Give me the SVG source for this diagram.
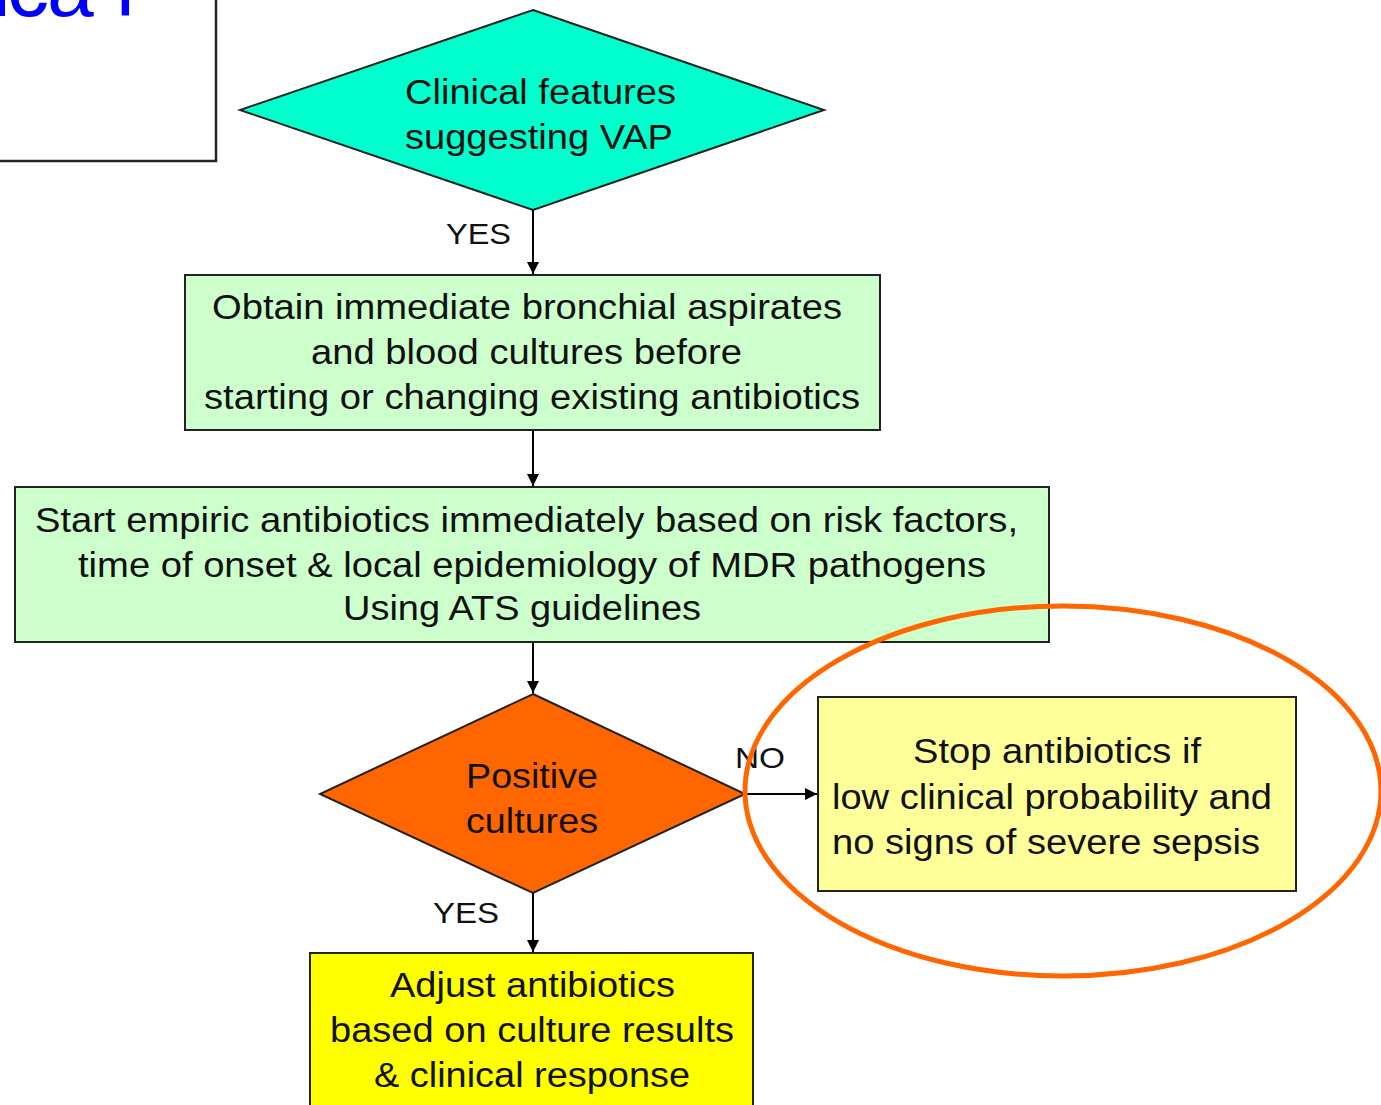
<svg xmlns="http://www.w3.org/2000/svg" width="1381" height="1105" viewBox="0 0 1381 1105">
<defs>
<marker id="arr" viewBox="0 0 10 10" refX="10" refY="5" markerWidth="12" markerHeight="12" markerUnits="userSpaceOnUse" orient="auto">
<path d="M0,0 L10,5 L0,10 z" fill="#000"/>
</marker>
</defs>
<style>
.t{font-family:"Liberation Sans",Arial,sans-serif;font-size:35px;fill:#111}
.l{font-family:"Liberation Sans",Arial,sans-serif;font-size:30px;fill:#111}
.box{stroke:#222;stroke-width:2}
.c{stroke:#000;stroke-width:2;fill:none;marker-end:url(#arr)}
</style>
<rect width="1381" height="1105" fill="#fff"/>
<g id="title-box">
<rect x="-10" y="-10" width="226" height="171" fill="#fff" stroke="#222" stroke-width="2.5"/>
<text x="-8 7 47 116" y="16" font-family="Liberation Sans,Arial,sans-serif" font-size="84" fill="#0000ff">ical</text>
</g>
<g id="n1">
<polygon class="box" points="533,10 824,110 533,210 240,110" fill="#00FFCC"/>
<text class="t" x="405" y="104" textLength="271" lengthAdjust="spacingAndGlyphs">Clinical features</text>
<text class="t" x="405" y="149" textLength="268" lengthAdjust="spacingAndGlyphs">suggesting VAP</text>
</g>
<g id="n2">
<rect class="box" x="185" y="275" width="695" height="155" fill="#CCFFCC"/>
<text class="t" x="212" y="319" textLength="630" lengthAdjust="spacingAndGlyphs">Obtain immediate bronchial aspirates</text>
<text class="t" x="311" y="364" textLength="431" lengthAdjust="spacingAndGlyphs">and blood cultures before</text>
<text class="t" x="204" y="409" textLength="656" lengthAdjust="spacingAndGlyphs">starting or changing existing antibiotics</text>
</g>
<g id="n3">
<rect class="box" x="15" y="487" width="1034" height="155" fill="#CCFFCC"/>
<text class="t" x="35" y="532" textLength="983" lengthAdjust="spacingAndGlyphs">Start empiric antibiotics immediately based on risk factors,</text>
<text class="t" x="78" y="577" textLength="908" lengthAdjust="spacingAndGlyphs">time of onset &amp; local epidemiology of MDR pathogens</text>
<text class="t" x="343" y="620" textLength="358" lengthAdjust="spacingAndGlyphs">Using ATS guidelines</text>
</g>
<g id="n4">
<polygon class="box" points="533,694 745,794 533,893 320,794" fill="#FF6600"/>
<text class="t" x="466" y="788" textLength="132" lengthAdjust="spacingAndGlyphs">Positive</text>
<text class="t" x="466" y="833" textLength="132" lengthAdjust="spacingAndGlyphs">cultures</text>
</g>
<g id="n5">
<rect class="box" x="818" y="697" width="478" height="194" fill="#FFFF99"/>
<text class="t" x="913" y="763" textLength="288" lengthAdjust="spacingAndGlyphs">Stop antibiotics if</text>
<text class="t" x="832" y="809" textLength="440" lengthAdjust="spacingAndGlyphs">low clinical probability and</text>
<text class="t" x="832" y="854" textLength="428" lengthAdjust="spacingAndGlyphs">no signs of severe sepsis</text>
</g>
<g id="n6">
<rect class="box" x="310" y="953" width="443" height="170" fill="#FFFF00"/>
<text class="t" x="390" y="997" textLength="285" lengthAdjust="spacingAndGlyphs">Adjust antibiotics</text>
<text class="t" x="330" y="1042" textLength="404" lengthAdjust="spacingAndGlyphs">based on culture results</text>
<text class="t" x="374" y="1087" textLength="316" lengthAdjust="spacingAndGlyphs">&amp; clinical response</text>
</g>
<g id="connectors">
<line class="c" x1="533" y1="210" x2="533" y2="274"/>
<line class="c" x1="533" y1="430" x2="533" y2="486"/>
<line class="c" x1="533" y1="642" x2="533" y2="693"/>
<line class="c" x1="745" y1="794" x2="817" y2="794"/>
<line class="c" x1="533" y1="893" x2="533" y2="952"/>
<text class="l" x="446" y="244" textLength="65" lengthAdjust="spacingAndGlyphs">YES</text>
<text class="l" x="735" y="768" textLength="50" lengthAdjust="spacingAndGlyphs">NO</text>
<text class="l" x="433" y="923" textLength="66" lengthAdjust="spacingAndGlyphs">YES</text>
</g>
<g id="highlight">
<ellipse cx="1063" cy="791" rx="318" ry="185" fill="none" stroke="#FF6600" stroke-width="5"/>
</g>
</svg>
